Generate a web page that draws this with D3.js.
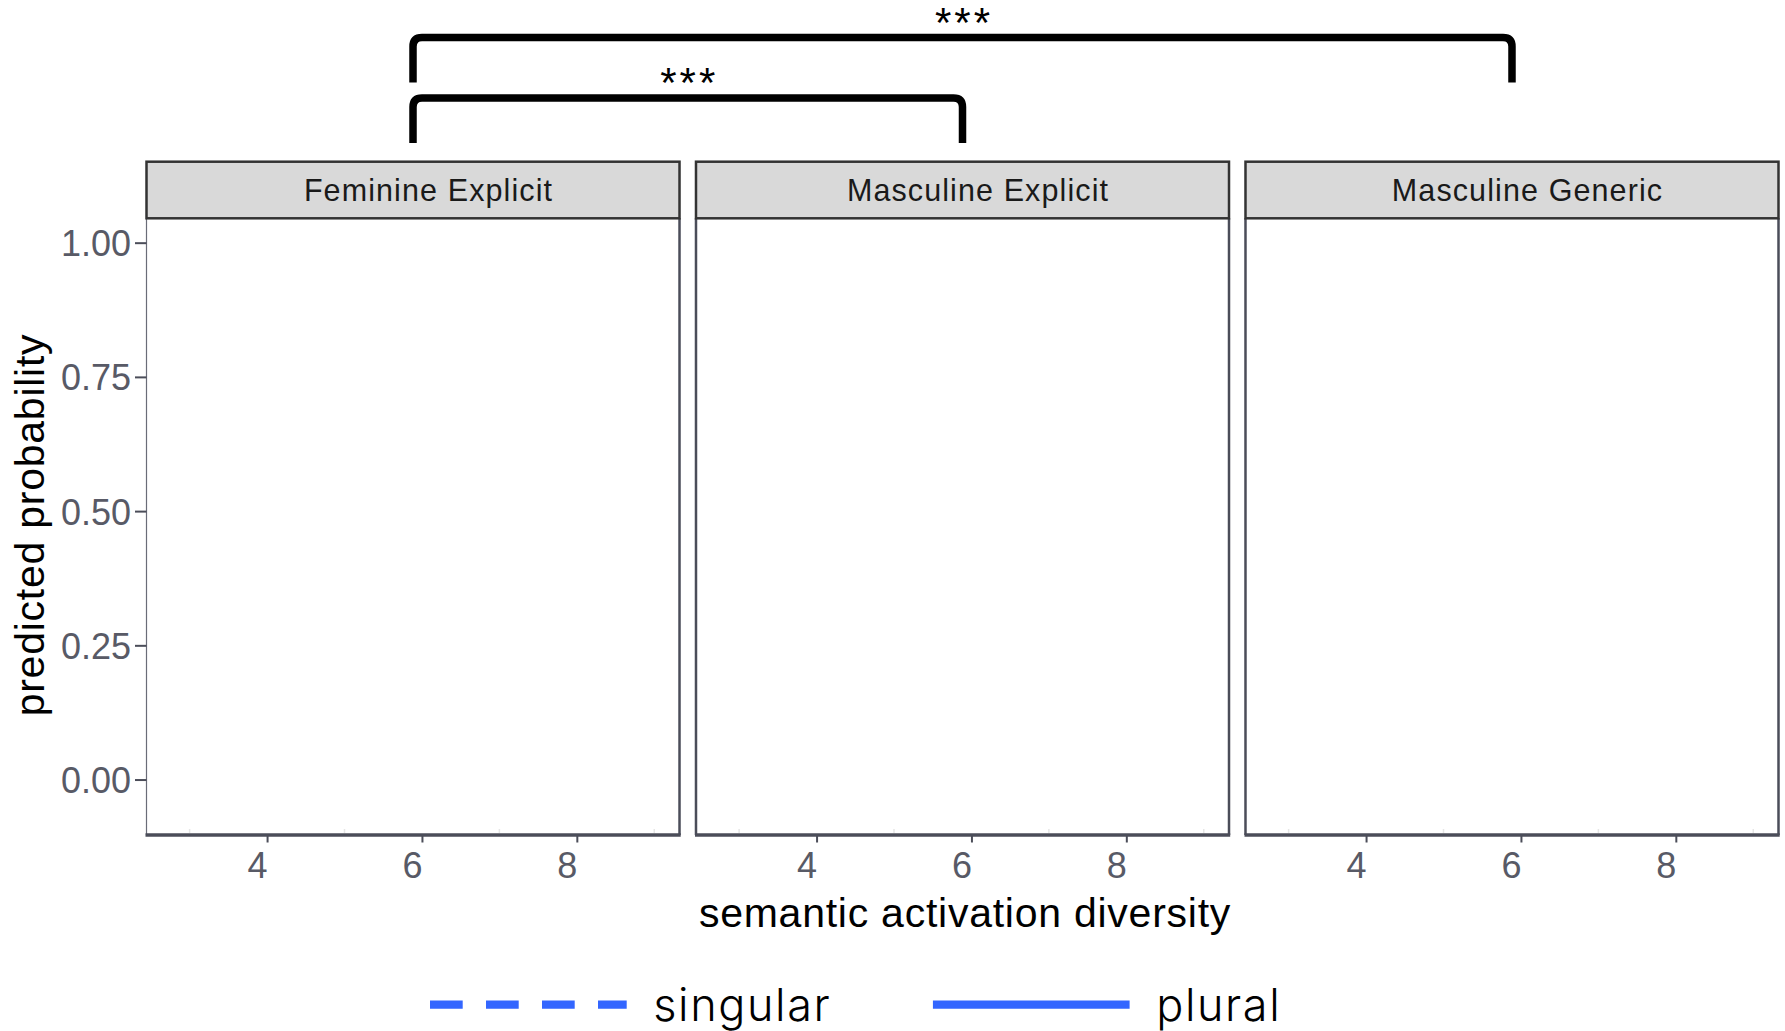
<!DOCTYPE html>
<html>
<head>
<meta charset="utf-8">
<script src="https://cdn.jsdelivr.net/npm/d3@7"></script>
<style>
  body { margin: 0; background: #ffffff; }
  svg { display: block; }
</style>
</head>
<body>
<script>
// facets, legend series, axis ticks and significance brackets
var facets = ["Feminine Explicit", "Masculine Explicit", "Masculine Generic"];
var seriesNames = ["singular", "plural"];
var xTicks = [4, 6, 8];
var xMinorTicks = [3, 5, 7, 9];
var yTicks = [0, 0.25, 0.5, 0.75, 1];
var xDomain = [2.443, 9.326];
var yDomain = [-0.1033, 1.0454];
var compFrom = ["Feminine Explicit", "Feminine Explicit"];
var compTo = ["Masculine Explicit", "Masculine Generic"];
var compLabel = ["***", "***"];

var width = 1785,
	height = 1031;

var plot = {
	left: 146.5,
	right: 1778.5,
	top: 218.3,
	bottom: 835,
	stripTop: 161.7
};

var axisGrey = "#585a66",
	lineGrey = "#4b4d59",
	blue = "#3366ff";

var svg = d3.select("body").append("svg")
	.attr("width", width)
	.attr("height", height);

var facetScale = d3.scaleBand()
	.domain(facets)
	.range([plot.left, plot.right])
	.paddingInner(0.03);

var bw = facetScale.bandwidth();

var yScale = d3.scaleLinear()
	.domain(yDomain)
	.range([plot.bottom, plot.top]);

facets.forEach(function(f, i) {
	var x0 = facetScale(f);
	var xScale = d3.scaleLinear()
		.domain(xDomain)
		.range([0, bw]);

	var panel = svg.append("g")
		.attr("transform", "translate(" + x0 + ",0)");

	// panel background
	panel.append("rect")
		.attr("x", 0)
		.attr("y", plot.top)
		.attr("width", bw)
		.attr("height", plot.bottom - plot.top)
		.attr("fill", "#ffffff");

	// faint minor grid stubs
	panel.selectAll(".minor")
		.data(xMinorTicks)
		.enter().append("line")
		.attr("x1", function(d) { return xScale(d); })
		.attr("x2", function(d) { return xScale(d); })
		.attr("y1", plot.bottom - 6)
		.attr("y2", plot.bottom - 2)
		.attr("stroke", "#e6e6e6")
		.attr("stroke-width", 1.5);

	// panel border: right + left
	panel.append("line")
		.attr("x1", bw).attr("x2", bw)
		.attr("y1", plot.top).attr("y2", plot.bottom)
		.attr("stroke", lineGrey)
		.attr("stroke-width", 2.5);
	panel.append("line")
		.attr("x1", 0).attr("x2", 0)
		.attr("y1", plot.top).attr("y2", plot.bottom)
		.attr("stroke", i == 0 ? "#6a6c78" : lineGrey)
		.attr("stroke-width", i == 0 ? 1.2 : 2.5);

	// x axis
	var xAxis = d3.axisBottom(xScale)
		.tickValues(xTicks)
		.tickSizeInner(7.5)
		.tickSizeOuter(0)
		.tickPadding(10)
		.tickFormat(d3.format("d"));

	var gx = panel.append("g")
		.attr("transform", "translate(0," + plot.bottom + ")")
		.call(xAxis);
	gx.select(".domain").remove();
	gx.selectAll(".tick line")
		.attr("stroke", lineGrey)
		.attr("stroke-width", 2);
	gx.selectAll(".tick text")
		.attr("fill", axisGrey)
		.attr("dx", -10)
		.style("font-family", "'Liberation Sans', Arial, sans-serif")
		.style("font-size", "36px");

	panel.append("line")
		.attr("x1", -1).attr("x2", bw + 1.2)
		.attr("y1", plot.bottom).attr("y2", plot.bottom)
		.attr("stroke", lineGrey)
		.attr("stroke-width", 3.5);

	// strip
	panel.append("rect")
		.attr("x", 0)
		.attr("y", plot.stripTop)
		.attr("width", bw)
		.attr("height", plot.top - plot.stripTop)
		.attr("fill", "#d9d9d9")
		.attr("stroke", "#333333")
		.attr("stroke-width", 2.5);

	panel.append("text")
		.attr("x", bw / 2 + 15.5)
		.attr("y", 201)
		.attr("text-anchor", "middle")
		.attr("fill", "#1a1a1a")
		.style("font-family", "'Liberation Sans', Arial, sans-serif")
		.style("font-size", "30.5px")
		.style("letter-spacing", "1.1px")
		.text(f);

	// y axis only on the first panel
	if (i == 0) {
		var yAxis = d3.axisLeft(yScale)
			.tickValues(yTicks)
			.tickSizeInner(11.5)
			.tickSizeOuter(0)
			.tickPadding(4)
			.tickFormat(d3.format(".2f"));
		var gy = panel.append("g").call(yAxis);
		gy.select(".domain").remove();
		gy.selectAll(".tick line")
			.attr("stroke", lineGrey)
			.attr("stroke-width", 2);
		gy.selectAll(".tick text")
			.attr("fill", axisGrey)
			.attr("dy", "0.36em")
			.style("font-family", "'Liberation Sans', Arial, sans-serif")
			.style("font-size", "36px");
	}
});

// axis titles
svg.append("text")
	.attr("x", 965)
	.attr("y", 926.5)
	.attr("text-anchor", "middle")
	.attr("fill", "#000000")
	.style("font-family", "'Liberation Sans', Arial, sans-serif")
	.style("font-size", "41px")
	.style("letter-spacing", "0.75px")
	.text("semantic activation diversity");

svg.append("text")
	.attr("transform", "translate(43.5,525) rotate(-90)")
	.attr("text-anchor", "middle")
	.attr("fill", "#000000")
	.style("font-family", "'Liberation Sans', Arial, sans-serif")
	.style("font-size", "41px")
	.style("letter-spacing", "0.75px")
	.text("predicted probability");

// significance brackets
var r = 9,
	legLen = 45;
compFrom.forEach(function(from, i) {
	var x1 = facetScale(from) + bw / 2,
		x2 = facetScale(compTo[i]) + bw / 2,
		yTop = 98 - i * 60.5,
		yBot = yTop + legLen;
	var path = d3.path();
	path.moveTo(x1, yBot);
	path.lineTo(x1, yTop + r);
	path.quadraticCurveTo(x1, yTop, x1 + r, yTop);
	path.lineTo(x2 - r, yTop);
	path.quadraticCurveTo(x2, yTop, x2, yTop + r);
	path.lineTo(x2, yBot);

	svg.append("path")
		.attr("d", path.toString())
		.attr("fill", "none")
		.attr("stroke", "#000000")
		.attr("stroke-width", 7.5);

	svg.append("text")
		.attr("x", (x1 + x2) / 2 + 1.5)
		.attr("y", yTop - 1)
		.attr("text-anchor", "middle")
		.attr("fill", "#000000")
		.style("font-family", "'Liberation Sans', Arial, sans-serif")
		.style("font-size", "42px")
		.style("letter-spacing", "3px")
		.text(compLabel[i]);
});

// legend
var legend = svg.append("g");
var cursor = 430,
	keyLen = 196.7,
	legendY = 1004.6;
seriesNames.forEach(function(name, i) {
	legend.append("line")
		.attr("x1", cursor)
		.attr("x2", cursor + keyLen)
		.attr("y1", legendY)
		.attr("y2", legendY)
		.attr("stroke", blue)
		.attr("stroke-width", 8.3)
		.attr("stroke-dasharray", name == "singular" ? "32.7,23.3" : null);

	var t = legend.append("text")
		.attr("x", cursor + keyLen + 26.6)
		.attr("y", 1021)
		.attr("fill", "#000000")
		.style("font-family", "Inter, 'Noto Sans', sans-serif")
		.style("font-size", "45px")
		.style("font-weight", 300)
		.style("letter-spacing", "1.6px")
		.text(name);

	cursor = cursor + keyLen + 26.6 + t.node().getComputedTextLength() + 101.6;
});
</script>
</body>
</html>
